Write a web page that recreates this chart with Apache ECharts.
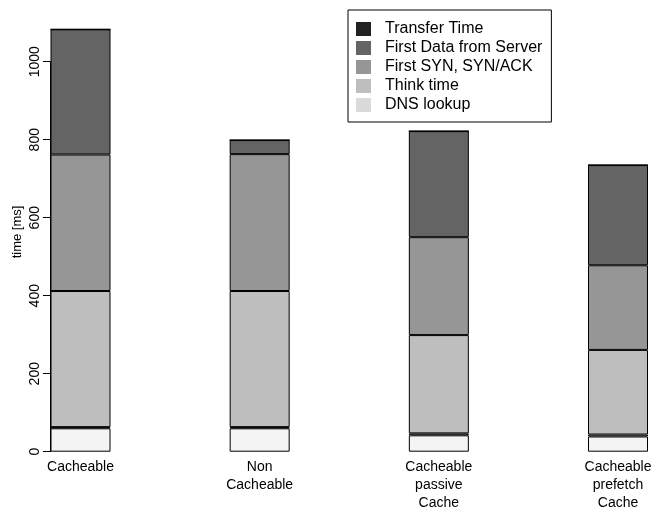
<!DOCTYPE html>
<html>
<head>
<meta charset="utf-8">
<script src="https://cdn.jsdelivr.net/npm/echarts@6/dist/echarts.min.js"></script>
<style>
  html, body { margin: 0; padding: 0; background: #fff; }
  #chart { width: 661px; height: 518px; }
</style>
</head>
<body>
<div id="chart"></div>
<script>
// Page-load time breakdown per caching setup (ms), stacked bottom to top.
const categories = ['Cacheable', 'Non\nCacheable', 'Cacheable\npassive\nCache', 'Cacheable\nprefetch\nCache'];
const otherTime    = [60, 60, 42, 39];
const dnsLookup    = [3, 3, 5, 5];
const thinkTime    = [349, 349, 252, 217];
const firstSyn     = [350, 351, 251, 217];
const firstData    = [321, 36, 272, 257];
const transferTime = [0, 0, 0, 0];
const yTicks = [0, 200, 400, 600, 800, 1000];

const FONT = "'Liberation Sans', Arial, sans-serif";

const stackDefs = [
  { name: 'Other',                  data: otherTime,    color: '#f4f4f4' },
  { name: 'DNS lookup',             data: dnsLookup,    color: '#dcdcdc' },
  { name: 'Think time',             data: thinkTime,    color: '#bebebe' },
  { name: 'First SYN, SYN/ACK',     data: firstSyn,     color: '#969696' },
  { name: 'First Data from Server', data: firstData,    color: '#646464' },
  { name: 'Transfer Time',          data: transferTime, color: '#222222' }
];

const legendOrder = ['Transfer Time', 'First Data from Server', 'First SYN, SYN/ACK', 'Think time', 'DNS lookup'];

const chart = echarts.init(document.getElementById('chart'), null, { renderer: 'canvas' });

chart.setOption({
  animation: false,
  backgroundColor: '#ffffff',
  textStyle: { fontFamily: FONT, color: '#000' },
  // first and last bar centres sit on the grid edges
  grid: { left: 80.5, right: 43, top: 61.7, bottom: 66.3, containLabel: false },
  legend: {
    orient: 'vertical',
    left: 348,
    top: 10,
    padding: [11, 9, 9, 8],
    borderColor: '#000',
    borderWidth: 1,
    itemWidth: 15,
    itemHeight: 14,
    itemGap: 3,
    icon: 'rect',
    itemStyle: { borderWidth: 0 },
    textStyle: { fontFamily: FONT, fontSize: 16, lineHeight: 16, color: '#000', padding: [0, 0, 0, 9] },
    data: legendOrder.map(n => {
      const d = stackDefs.find(s => s.name === n);
      return { name: n, itemStyle: { color: n === 'DNS lookup' ? '#dadada' : d.color, borderWidth: 0 } };
    })
  },
  xAxis: {
    type: 'category',
    data: categories,
    boundaryGap: false,
    axisLine: { show: false },
    axisTick: { show: false },
    axisLabel: {
      fontFamily: FONT, fontSize: 14, color: '#000', lineHeight: 18,
      margin: 6, interval: 0, verticalAlign: 'top'
    }
  },
  yAxis: {
    type: 'value',
    min: 0,
    max: 1000,
    interval: 200,
    offset: 30.5,
    splitLine: { show: false },
    axisLine: { show: true, lineStyle: { color: '#000', width: 1 } },
    axisTick: { show: true, length: 7, lineStyle: { color: '#000', width: 1 } },
    axisLabel: {
      rotate: 90, margin: 8, fontFamily: FONT, fontSize: 14, color: '#000',
      formatter: v => (yTicks.indexOf(v) >= 0 ? String(v) : '')
    }
  },
  graphic: [{
    type: 'text',
    x: 17,
    y: 232,
    rotation: Math.PI / 2,
    style: {
      text: 'time [ms]',
      font: '13px ' + FONT,
      fill: '#000',
      align: 'center',
      verticalAlign: 'middle'
    }
  }],
  series: stackDefs.map(s => ({
    name: s.name,
    type: 'bar',
    stack: 'total',
    data: s.data,
    barWidth: 60,
    clip: false,
    itemStyle: { color: s.color, borderColor: '#000', borderWidth: 1 },
    emphasis: { disabled: true }
  }))
});
</script>
</body>
</html>
